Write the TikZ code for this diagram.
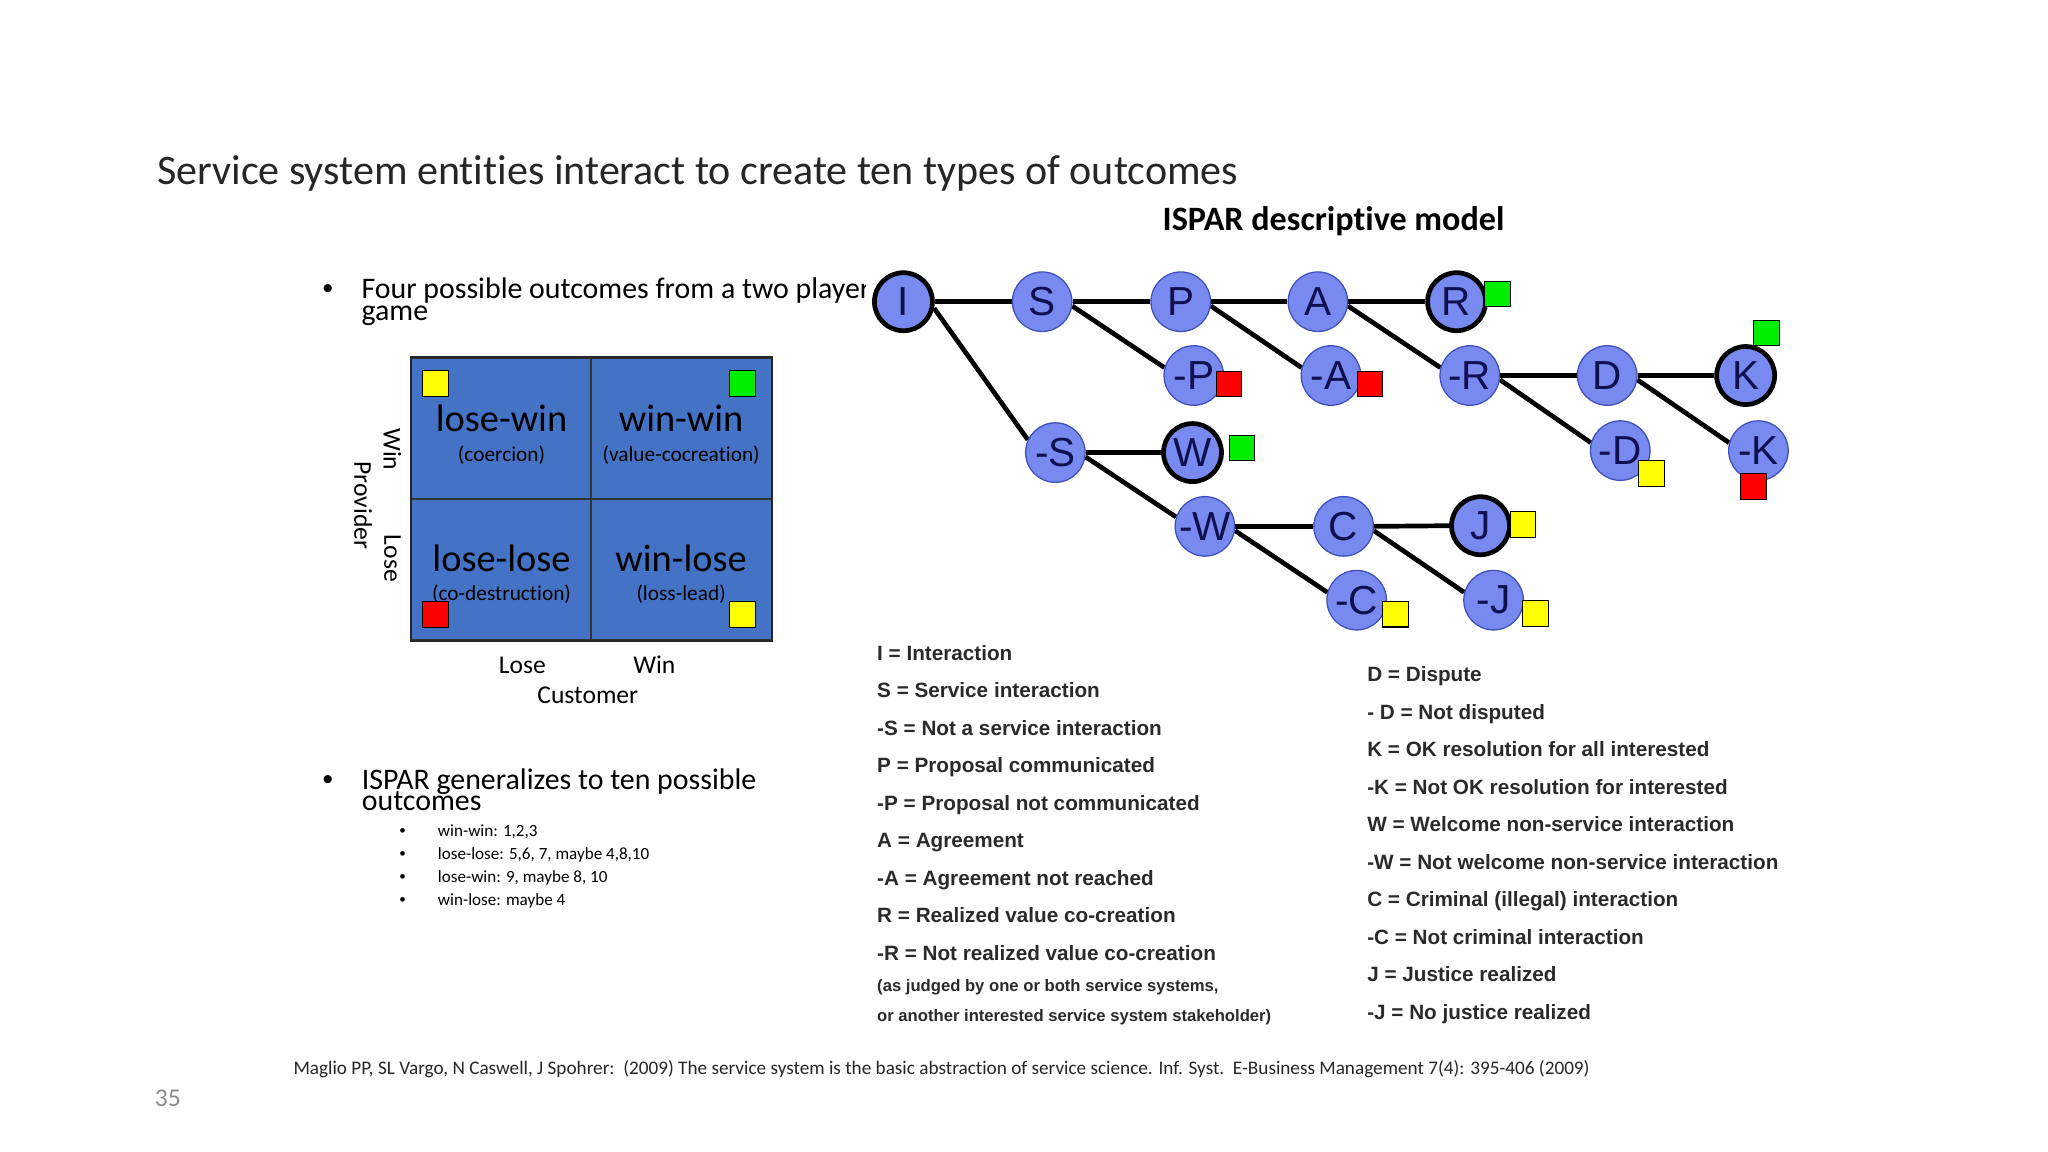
\documentclass[tikz,border=0pt]{standalone}
\usepackage{fontspec}
\setmainfont{Carlito}[Ligatures=NoCommon]
\newfontfamily\arialf{Liberation Sans}
\usetikzlibrary{backgrounds}
\definecolor{matblue}{HTML}{4472C4}
\definecolor{nodefill}{HTML}{7889EF}
\definecolor{nodeline}{HTML}{3F50B8}
\definecolor{nodetext}{HTML}{0E1050}
\definecolor{legtext}{HTML}{2A2A2A}
\definecolor{sqgreen}{HTML}{00EE00}
\definecolor{sqred}{HTML}{FF0000}
\definecolor{sqyellow}{HTML}{FFFF00}
\definecolor{pagegray}{HTML}{8C8C8C}
\definecolor{titletext}{HTML}{262626}
\begin{document}
\begin{tikzpicture}[x=0.6122pt,y=-0.6122pt,
  lbl/.style={inner sep=0pt, anchor=base west},
  ctr/.style={inner sep=0pt, anchor=base},
  tnode/.style={circle, fill=nodefill, draw=nodeline, line width=0.6pt, minimum size=27.9pt, inner sep=0pt, font=\arialf\fontsize{19}{19}\selectfont, text=nodetext},
  tfinal/.style={tnode, draw=black, line width=2.2pt, minimum size=27.2pt},
  link/.style={line width=2.2pt, black},
  flag/.style={draw=black, line width=0.5pt, minimum size=11.9pt, inner sep=0pt},
  cell/.style={draw=black!80, fill=matblue, line width=0.6pt, minimum width=84.5pt, minimum height=66.1pt, inner sep=0pt},
  mbig/.style={ctr, font=\fontsize{18}{18}\selectfont},
  msmall/.style={ctr, font=\fontsize{10}{10}\selectfont},
  axis/.style={inner sep=0pt, font=\fontsize{12}{12}\selectfont},
  f14/.style={font=\fontsize{14}{14}\selectfont},
  f8/.style={font=\fontsize{8}{8}\selectfont},
  bul14/.style={ctr, font=\arialf\fontsize{14}{14}\selectfont},
  bul8/.style={ctr, font=\arialf\fontsize{8}{8}\selectfont},
  leg/.style={lbl, font=\arialf\bfseries\fontsize{9.7}{9.7}\selectfont, text=legtext},
  legs/.style={lbl, font=\arialf\bfseries\fontsize{7.8}{7.8}\selectfont, text=legtext},
]
\useasboundingbox (0,0) rectangle (1568,882);

% ---------- titles ----------
\node[lbl, font=\fontsize{19.7}{19.7}\selectfont, text=titletext] (title) at (120,141) {Service system entities interact to create ten types of outcomes};
\node[ctr, font=\bfseries\fontsize{16}{16}\selectfont] (ispar) at (1021,176.5) {ISPAR descriptive model};

% ---------- left bullets ----------
\node[bul14] (bul1) at (251,228.5) {•};
\begin{scope}
  \clip (0,0) rectangle (663,882);
  \node[lbl, f14] (b1a) at (276.5,228.5) {Four possible outcomes from a two player};
\end{scope}
\node[lbl, f14] (b1b) at (276.5,245) {game};

% ---------- matrix ----------
\node[cell] (c11) at (384,328) {};
\node[cell] (c12) at (521.5,328) {};
\node[cell] (c21) at (384,436) {};
\node[cell] (c22) at (521.5,436) {};
\draw[line width=0.9pt, black!85] (c11.north west) rectangle (c22.south east);

\node[mbig] (tlw) at (384,330) {lose-win};
\node[msmall] (tlws) at (384,353) {(coercion)};
\node[mbig] (tww) at (521.5,330) {win-win};
\node[msmall] (twws) at (521.5,353) {(value-cocreation)};
\node[mbig] (tll) at (384,437.5) {lose-lose};
\node[msmall] (tlls) at (384,460) {(co-destruction)};
\node[mbig] (twl) at (521.5,437.5) {win-lose};
\node[msmall] (twls) at (521.5,460) {(loss-lead)};

\node[flag, fill=sqyellow, minimum size=12.2pt] (m1) at (333.1,293.9) {};
\node[flag, fill=sqgreen, minimum size=12.2pt] (m2) at (568.2,293.9) {};
\node[flag, fill=sqred, minimum size=12.2pt] (m3) at (333.1,470.3) {};
\node[flag, fill=sqyellow, minimum size=12.2pt] (m4) at (568.2,470.3) {};

\node[axis, rotate=-90] (aw) at (300.5,344) {Win};
\node[axis, rotate=-90] (al) at (300.5,427.5) {Lose};
\node[axis, rotate=-90] (ap) at (278,387) {Provider};
\node[axis, anchor=base] (xl) at (400,515.5) {Lose};
\node[axis, anchor=base] (xw) at (501,515.5) {Win};
\node[axis, anchor=base] (xc) at (450,538.5) {Customer};

% ---------- second bullet ----------
\node[bul14] (bul2) at (251,604.4) {•};
\node[lbl, f14] (b2a) at (276.7,604.4) {ISPAR generalizes to ten possible};
\node[lbl, f14] (b2b) at (276.7,620.7) {outcomes};
\node[bul8] (s1b) at (308.2,640.5) {•};
\node[lbl, f8] (s1) at (335,640.5) {win-win: 1,2,3};
\node[bul8] (s2b) at (308.2,658.2) {•};
\node[lbl, f8] (s2) at (335,658.2) {lose-lose: 5,6, 7, maybe 4,8,10};
\node[bul8] (s3b) at (308.2,675.9) {•};
\node[lbl, f8] (s3) at (335,675.9) {lose-win: 9, maybe 8, 10};
\node[bul8] (s4b) at (308.2,693.6) {•};
\node[lbl, f8] (s4) at (335,693.6) {win-lose: maybe 4};

% ---------- tree ----------
\node[tfinal] (I) at (691.7,231) {I};
\node[tnode] (S) at (797.9,231) {S};
\node[tnode] (P) at (904,231) {P};
\node[tnode] (A) at (1009,231) {A};
\node[tfinal] (R) at (1115.2,231) {R};
\node[tnode] (nP) at (914,287.5) {-P};
\node[tnode] (nA) at (1019,287.5) {-A};
\node[tnode] (nR) at (1125.3,287.5) {-R};
\node[tnode] (D) at (1230.5,287.5) {D};
\node[tfinal] (K) at (1336.5,287.5) {K};
\node[tnode] (nD) at (1240.5,345) {-D};
\node[tnode] (nK) at (1346.3,345) {-K};
\node[tnode] (nS) at (808,346.5) {-S};
\node[tfinal] (W) at (913,346.5) {W};
\node[tnode] (nW) at (922.5,403) {-W};
\node[tnode] (C) at (1028.7,403) {C};
\node[tfinal] (J) at (1133.5,402.5) {J};
\node[tnode] (nC) at (1038.7,459.5) {-C};
\node[tnode] (nJ) at (1143.5,459.5) {-J};

\begin{scope}[on background layer]
  \fill[white] (0,0) rectangle (1568,882);
  \draw[link] (I.east) -- (S.west);
  \draw[link] (S.east) -- (P.west);
  \draw[link] (P.east) -- (A.west);
  \draw[link] (A.east) -- (R.west);
  \draw[link] (I.-12) -- (nS.155);
  \draw[link] (S.-8) -- (nP.165);
  \draw[link] (P.-8) -- (nA.165);
  \draw[link] (A.-8) -- (nR.165);
  \draw[link] (nR.east) -- (D.west);
  \draw[link] (D.east) -- (K.west);
  \draw[link] (nR.-8) -- (nD.165);
  \draw[link] (D.-8) -- (nK.165);
  \draw[link] (nS.east) -- (W.west);
  \draw[link] (nS.-8) -- (nW.162);
  \draw[link] (nW.east) -- (C.west);
  \draw[link] (C.east) -- (J.west);
  \draw[link] (nW.-8) -- (nC.165);
  \draw[link] (C.-8) -- (nJ.165);
\end{scope}

\node[flag, fill=sqgreen] (fR) at (1146.6,225.3) {};
\node[flag, fill=sqred] (fnP) at (941.1,293.8) {};
\node[flag, fill=sqred] (fnA) at (1048.7,293.8) {};
\node[flag, fill=sqgreen] (fK) at (1352.5,254.9) {};
\node[flag, fill=sqyellow] (fnD) at (1264.3,362.4) {};
\node[flag, fill=sqred] (fnK) at (1342.5,372.4) {};
\node[flag, fill=sqgreen] (fW) at (950.7,342.9) {};
\node[flag, fill=sqyellow] (fJ) at (1166.2,401.6) {};
\node[flag, fill=sqyellow] (fnC) at (1068.3,470.3) {};
\node[flag, fill=sqyellow] (fnJ) at (1175.5,469.8) {};

% ---------- legend ----------
\node[leg] (l1) at (671.3,505.4) {I = Interaction};
\node[leg] (l2) at (671.3,534.1) {S = Service interaction};
\node[leg] (l3) at (671.3,562.8) {-S = Not a service interaction};
\node[leg] (l4) at (671.3,591.6) {P = Proposal communicated};
\node[leg] (l5) at (671.3,620.3) {-P = Proposal not communicated};
\node[leg] (l6) at (671.3,649.0) {A = Agreement};
\node[leg] (l7) at (671.3,677.7) {-A = Agreement not reached};
\node[leg] (l8) at (671.3,706.4) {R = Realized value co-creation};
\node[leg] (l9) at (671.3,735.2) {-R = Not realized value co-creation};
\node[legs] (l10) at (671.3,759.3) {(as judged by one or both service systems,};
\node[legs] (l11) at (671.3,782.3) {or another interested service system stakeholder)};

\node[leg] (r1) at (1046.5,522.0) {D = Dispute};
\node[leg] (r2) at (1046.5,550.7) {- D = Not disputed};
\node[leg] (r3) at (1046.5,579.4) {K = OK resolution for all interested};
\node[leg] (r4) at (1046.5,608.1) {-K = Not OK resolution for interested};
\node[leg] (r5) at (1046.5,636.8) {W = Welcome non-service interaction};
\node[leg] (r6) at (1046.5,665.5) {-W = Not welcome non-service interaction};
\node[leg] (r7) at (1046.5,694.3) {C = Criminal (illegal) interaction};
\node[leg] (r8) at (1046.5,723.0) {-C = Not criminal interaction};
\node[leg] (r9) at (1046.5,751.7) {J = Justice realized};
\node[leg] (r10) at (1046.5,780.4) {-J = No justice realized};

% ---------- footer ----------
\node[lbl, font=\fontsize{9}{9}\selectfont, text=titletext] (cite) at (224.4,823) {Maglio PP, SL Vargo, N Caswell, J Spohrer:\ \ (2009) The service system is the basic abstraction of service science. Inf. Syst.\ \ E-Business Management 7(4): 395-406 (2009)};
\node[lbl, font=\fontsize{12}{12}\selectfont, text=pagegray] (pnum) at (118.2,847.4) {35};
\end{tikzpicture}
\end{document}
